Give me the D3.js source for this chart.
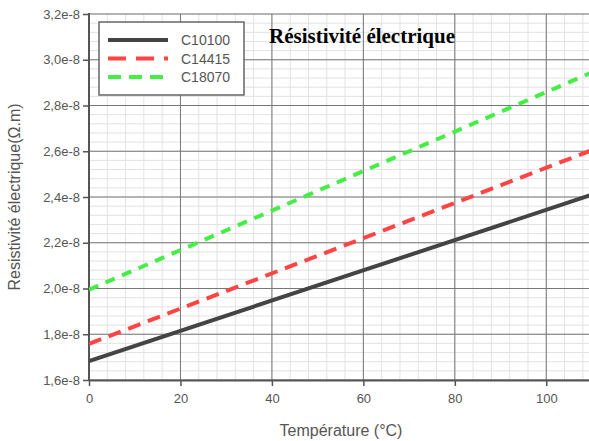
<!DOCTYPE html>
<html>
<head>
<meta charset="utf-8">
<script src="https://cdn.jsdelivr.net/npm/d3@7"></script>
<style>
  body { margin: 0; background: #fff; }
  svg { display: block; font-family: "Liberation Sans", Arial, sans-serif; }
</style>
</head>
<body>
<svg id="chart" width="589" height="441"></svg>
<script>
// data (values in units of 1e-8 ohm.m)
var temps = [0, 110];
var seriesNames = ["C10100", "C14415", "C18070"];
var c10100 = [1.683, 2.41];
var c14415 = [1.758, 2.605];
var c18070 = [1.995, 2.945];
var xTicks = [0, 20, 40, 60, 80, 100];
var yTicks = [1.6, 1.8, 2.0, 2.2, 2.4, 2.6, 2.8, 3.0, 3.2];

var colors = ["#444444", "#ff4444", "#44ee44"];
var dashes = [null, "13,8", "10,8"];

var width = 589, height = 441;
var x0 = 89, x1 = 592, yTop = 14, yBot = 380;

var svg = d3.select("#chart");

var x = d3.scaleLinear().domain([0, 110]).range([x0, x1]);
var y = d3.scaleLinear().domain([1.6, 3.2]).range([yBot, yTop]);

// minor grid
var g = svg.append("g");
g.selectAll(".vminor")
  .data(d3.range(0, 111, 4))
  .enter().append("line")
  .attr("x1", function(d) { return x(d); })
  .attr("x2", function(d) { return x(d); })
  .attr("y1", yTop).attr("y2", yBot)
  .attr("stroke", "#e2e2e2").attr("stroke-width", 1);
g.selectAll(".hminor")
  .data(d3.range(0, 41).map(function(i) { return 1.6 + i * 0.04; }))
  .enter().append("line")
  .attr("x1", x0).attr("x2", width)
  .attr("y1", function(d) { return y(d); })
  .attr("y2", function(d) { return y(d); })
  .attr("stroke", "#e2e2e2").attr("stroke-width", 1);

// major grid
g.selectAll(".vmajor")
  .data(xTicks)
  .enter().append("line")
  .attr("x1", function(d) { return x(d); })
  .attr("x2", function(d) { return x(d); })
  .attr("y1", yTop).attr("y2", yBot)
  .attr("stroke", "#777").attr("stroke-width", 1);
g.selectAll(".hmajor")
  .data(yTicks)
  .enter().append("line")
  .attr("x1", x0).attr("x2", width)
  .attr("y1", function(d) { return y(d); })
  .attr("y2", function(d) { return y(d); })
  .attr("stroke", "#777").attr("stroke-width", 1);

// axes
var fmt = function(d) { return d.toFixed(1).replace(".", ",") + "e-8"; };
var xAxis = svg.append("g")
  .attr("transform", "translate(0," + yBot + ")")
  .call(d3.axisBottom(x).tickValues(xTicks).tickSize(6).tickSizeOuter(0).tickPadding(8));
var yAxis = svg.append("g")
  .attr("transform", "translate(" + x0 + ",0)")
  .call(d3.axisLeft(y).tickValues(yTicks).tickFormat(fmt).tickSize(6).tickSizeOuter(0).tickPadding(3));

[xAxis, yAxis].forEach(function(a) {
  a.select(".domain").attr("stroke", "#555").attr("stroke-width", 2);
  a.selectAll(".tick line").attr("stroke", "#555").attr("stroke-width", 1.5);
  a.selectAll(".tick text").attr("fill", "#555")
    .style("font-family", "'Liberation Sans', Arial, sans-serif").style("font-size", "13px");
});
yAxis.select(".domain").attr("d", "M0," + (yTop - 1) + "V" + (yBot + 1));

// lines
var line = d3.line()
  .x(function(d) { return x(d[0]); })
  .y(function(d) { return y(d[1]); });

var allSeries = [c10100, c14415, c18070];
svg.append("clipPath").attr("id", "clip")
  .append("rect").attr("x", x0).attr("y", 0).attr("width", width - x0).attr("height", yBot);

svg.append("g").attr("clip-path", "url(#clip)")
  .selectAll("path.series")
  .data(allSeries)
  .enter().append("path")
  .attr("class", "series")
  .attr("d", function(vals) { return line(temps.map(function(t, i) { return [t, vals[i]]; })); })
  .attr("fill", "none")
  .attr("stroke", function(d, i) { return colors[i]; })
  .attr("stroke-width", 4)
  .attr("stroke-dasharray", function(d, i) { return dashes[i]; });

// legend
var lg = svg.append("g");
lg.append("rect")
  .attr("x", 99).attr("y", 22).attr("width", 145).attr("height", 73)
  .attr("fill", "#fff").attr("stroke", "#666").attr("stroke-width", 1.5);
var legDash = [null, "18,10", "13,8"];
seriesNames.forEach(function(name, i) {
  var yy = 40 + i * 18.5;
  lg.append("line")
    .attr("x1", 108).attr("x2", 168).attr("y1", yy).attr("y2", yy)
    .attr("stroke", colors[i]).attr("stroke-width", 4)
    .attr("stroke-dasharray", legDash[i]);
  lg.append("text")
    .attr("x", 181).attr("y", yy + 5)
    .attr("fill", "#555").style("font-size", "14px")
    .text(name);
});

// titles
svg.append("text")
  .attr("x", 269).attr("y", 43)
  .style("font-family", "'Liberation Serif', 'Times New Roman', serif")
  .style("font-weight", "bold").style("font-size", "21px")
  .attr("fill", "#000")
  .text("Résistivité électrique");

svg.append("text")
  .attr("x", 341).attr("y", 436)
  .attr("text-anchor", "middle")
  .attr("fill", "#555").style("font-size", "16px")
  .text("Température (°C)");

svg.append("text")
  .attr("transform", "translate(20," + ((yTop + yBot) / 2) + ") rotate(-90)")
  .attr("text-anchor", "middle")
  .attr("fill", "#555").style("font-size", "16px")
  .text("Resistivité électrique(Ω.m)");
</script>
</body>
</html>
